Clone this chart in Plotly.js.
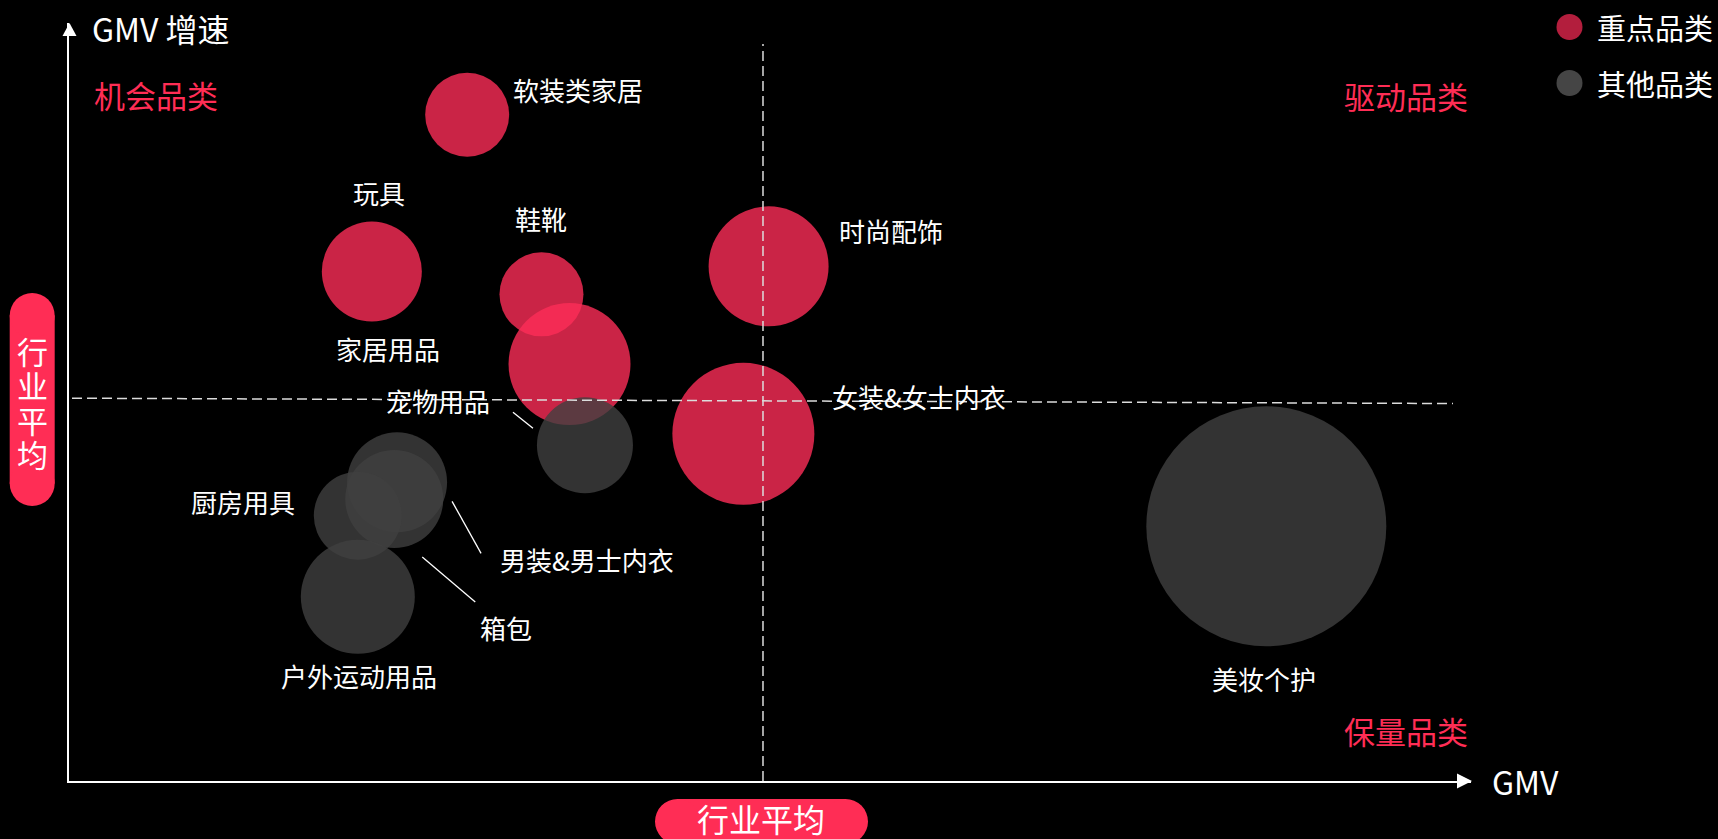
<!DOCTYPE html>
<html>
<head>
<meta charset="utf-8">
<script src="https://cdn.plot.ly/plotly-3.0.1.min.js"></script>
<style>
  html, body { margin: 0; padding: 0; background: #000; }
  #chart { width: 1718px; height: 839px; }
</style>
</head>
<body>
<div id="chart"></div>
<script>
// ---------------- data ----------------
const categories = ['软装类家居', '玩具', '鞋靴', '家居用品', '时尚配饰', '女装&女士内衣',
                    '宠物用品', '男装&男士内衣', '箱包', '厨房用具', '户外运动用品', '美妆个护'];
const gmv        = [28.4, 21.6, 33.7, 35.7, 49.9, 48.1, 36.8, 23.4, 23.2, 20.6, 20.6, 85.4];
const growth     = [87.9, 67.2, 64.2, 55.0, 67.9, 45.8, 44.3, 39.4, 37.2, 35.0, 24.3, 33.6];
const bubbleSize = [84, 100, 84, 122, 120, 142, 96, 100, 98, 88, 114, 240];
const group      = ['重点品类', '重点品类', '重点品类', '重点品类', '重点品类', '重点品类',
                    '其他品类', '其他品类', '其他品类', '其他品类', '其他品类', '其他品类'];
const groups     = ['重点品类', '其他品类'];
const industryAvgGMV = 49.5;
const industryAvgGrowthStart = 50.5;
const industryAvgGrowthEnd = 49.8;
const quadrantLabels = ['机会品类', '驱动品类', '保量品类'];
const axisTitles = { x: 'GMV', y: 'GMV 增速', avg: '行业平均' };

// ---------------- layout / style ----------------
const FONT = '"Noto Sans CJK SC", "Noto Sans", sans-serif';
const RED = '#ff2d55';
const groupStyle = {
  '重点品类': { fill: 'rgba(252,45,88,0.8)', legend: '#b31e3d' },
  '其他品类': { fill: 'rgba(64,64,64,0.8)', legend: '#454545' }
};
// label offsets from bubble centre, screen pixels (dx right, dy down)
const labelOffset = {
  '软装类家居': [111, -25], '玩具': [7, -79], '鞋靴': [0, -76], '家居用品': [-182, -16],
  '时尚配饰': [122, -36], '女装&女士内衣': [176, -37], '宠物用品': [-147, -45],
  '男装&男士内衣': [190, 77], '箱包': [112, 128], '厨房用具': [-115, -14],
  '户外运动用品': [1, 79], '美妆个护': [-2, 152]
};
// leader lines from bubble centre, screen pixels [x0,y0,x1,y1] (y down)
const leaders = {
  '宠物用品': [-72, -33, -52, -17],
  '男装&男士内衣': [55, 19, 84, 71],
  '箱包': [28, 58, 81, 103]
};

const L = 69, R = 1471, T = 23, B = 781, W = 1718, H = 839;
const pw = R - L, ph = B - T;
const px = v => (v - L) / pw;
const py = v => (B - v) / ph;

const traces = groups.map(g => {
  const idx = categories.map((c, i) => i).filter(i => group[i] === g);
  return {
    type: 'scatter', mode: 'markers', name: g,
    x: idx.map(i => gmv[i]), y: idx.map(i => growth[i]),
    text: idx.map(i => categories[i]),
    marker: { size: idx.map(i => bubbleSize[i]), sizemode: 'diameter', sizeref: 1, opacity: 1,
              color: groupStyle[g].fill, line: { width: 0 } },
    hoverinfo: 'text', showlegend: false, cliponaxis: false
  };
});

const annotations = [];
const shapes = [];

// bubble labels
categories.forEach((c, i) => {
  const o = labelOffset[c];
  annotations.push({ x: gmv[i], y: growth[i], xref: 'x', yref: 'y', text: c, showarrow: false,
    xshift: o[0], yshift: -o[1], xanchor: 'center', yanchor: 'middle',
    font: { family: FONT, size: 26, color: '#ffffff' } });
  if (leaders[c]) {
    const l = leaders[c];
    shapes.push({ type: 'line', xref: 'x', yref: 'y', xsizemode: 'pixel', ysizemode: 'pixel',
      xanchor: gmv[i], yanchor: growth[i], x0: l[0], y0: -l[1], x1: l[2], y1: -l[3],
      line: { color: '#ffffff', width: 1.3 } });
  }
});

// average dashed lines
shapes.push({ type: 'line', xref: 'x', yref: 'paper', x0: industryAvgGMV, x1: industryAvgGMV,
  y0: 0, y1: py(44), line: { color: '#dcdcdc', width: 1.5, dash: '10px,5px' }, layer: 'above' });
shapes.push({ type: 'line', xref: 'paper', yref: 'y', x0: px(72), x1: px(1453),
  y0: industryAvgGrowthStart, y1: industryAvgGrowthEnd,
  line: { color: '#dcdcdc', width: 1.5, dash: '10px,5px' }, layer: 'above' });

// axis arrow heads
shapes.push({ type: 'path', xref: 'paper', yref: 'paper', xsizemode: 'pixel', ysizemode: 'pixel',
  xanchor: px(1472), yanchor: py(781), path: 'M -15 -7.5 L 0 0 L -15 7.5 Z',
  fillcolor: '#ffffff', line: { width: 0 } });
shapes.push({ type: 'path', xref: 'paper', yref: 'paper', xsizemode: 'pixel', ysizemode: 'pixel',
  xanchor: px(69.5), yanchor: py(23), path: 'M -7 -13 L 0 0 L 7 -13 Z',
  fillcolor: '#ffffff', line: { width: 0 } });

// pills
function pill(cx, cy, w, h) {
  const r = Math.min(w, h) / 2;
  const common = { xref: 'paper', yref: 'paper', xsizemode: 'pixel', ysizemode: 'pixel',
    xanchor: px(cx), yanchor: py(cy), fillcolor: RED, line: { width: 0 }, layer: 'above' };
  if (w >= h) {
    shapes.push(Object.assign({ type: 'rect', x0: -w / 2 + r, x1: w / 2 - r, y0: -h / 2, y1: h / 2 }, common));
    shapes.push(Object.assign({ type: 'circle', x0: -w / 2, x1: -w / 2 + 2 * r, y0: -r, y1: r }, common));
    shapes.push(Object.assign({ type: 'circle', x0: w / 2 - 2 * r, x1: w / 2, y0: -r, y1: r }, common));
  } else {
    shapes.push(Object.assign({ type: 'rect', x0: -w / 2, x1: w / 2, y0: -h / 2 + r, y1: h / 2 - r }, common));
    shapes.push(Object.assign({ type: 'circle', x0: -r, x1: r, y0: h / 2 - 2 * r, y1: h / 2 }, common));
    shapes.push(Object.assign({ type: 'circle', x0: -r, x1: r, y0: -h / 2, y1: -h / 2 + 2 * r }, common));
  }
}
pill(32.2, 399.5, 45, 213);
pill(761.5, 821.5, 213, 45);

const avgChars = Array.from(axisTitles.avg);
const vy = [350, 384.5, 419, 453.5];
avgChars.forEach((ch, k) => {
  annotations.push({ xref: 'paper', yref: 'paper', x: px(32), y: py(vy[k]), text: ch, showarrow: false,
    xanchor: 'center', yanchor: 'middle', font: { family: FONT, size: 31, color: '#ffffff' } });
});
annotations.push({ xref: 'paper', yref: 'paper', x: px(761), y: py(818), text: axisTitles.avg, showarrow: false,
  xanchor: 'center', yanchor: 'middle', font: { family: FONT, size: 32, color: '#ffffff' } });

// axis titles
annotations.push({ xref: 'paper', yref: 'paper', x: px(90), y: py(28), text: axisTitles.y, showarrow: false,
  xanchor: 'left', yanchor: 'middle', font: { family: FONT, size: 32, color: '#ffffff' } });
annotations.push({ xref: 'paper', yref: 'paper', x: px(1490), y: py(781), text: axisTitles.x, showarrow: false,
  xanchor: 'left', yanchor: 'middle', font: { family: FONT, size: 32, color: '#ffffff' } });

// quadrant labels
const qpos = [[155.5, 94], [1406, 95], [1405.5, 730]];
quadrantLabels.forEach((q, k) => {
  annotations.push({ xref: 'paper', yref: 'paper', x: px(qpos[k][0]), y: py(qpos[k][1]), text: q,
    showarrow: false, xanchor: 'center', yanchor: 'middle',
    font: { family: FONT, size: 31, color: RED } });
});

// legend
const legY = [27, 83];
groups.forEach((g, k) => {
  shapes.push({ type: 'circle', xref: 'paper', yref: 'paper', xsizemode: 'pixel', ysizemode: 'pixel',
    xanchor: px(1569.5), yanchor: py(legY[k]), x0: -13, x1: 13, y0: -13, y1: 13,
    fillcolor: groupStyle[g].legend, line: { width: 0 } });
  annotations.push({ xref: 'paper', yref: 'paper', x: px(1595), y: py(legY[k]), text: g, showarrow: false,
    xanchor: 'left', yanchor: 'middle', font: { family: FONT, size: 29, color: '#ffffff' } });
});

const layout = {
  width: W, height: H,
  margin: { l: L, r: W - R, t: T, b: H - B, pad: 0 },
  paper_bgcolor: '#000000', plot_bgcolor: '#000000',
  showlegend: false,
  xaxis: { range: [0, 100], showgrid: false, zeroline: false, showticklabels: false, ticks: '',
           showline: true, linecolor: '#ffffff', linewidth: 2, fixedrange: true },
  yaxis: { range: [0, 100], showgrid: false, zeroline: false, showticklabels: false, ticks: '',
           showline: true, linecolor: '#ffffff', linewidth: 2, fixedrange: true },
  shapes: shapes,
  annotations: annotations,
  font: { family: FONT, color: '#ffffff' }
};

Plotly.newPlot('chart', traces, layout, { displayModeBar: false, staticPlot: true });
</script>
</body>
</html>
